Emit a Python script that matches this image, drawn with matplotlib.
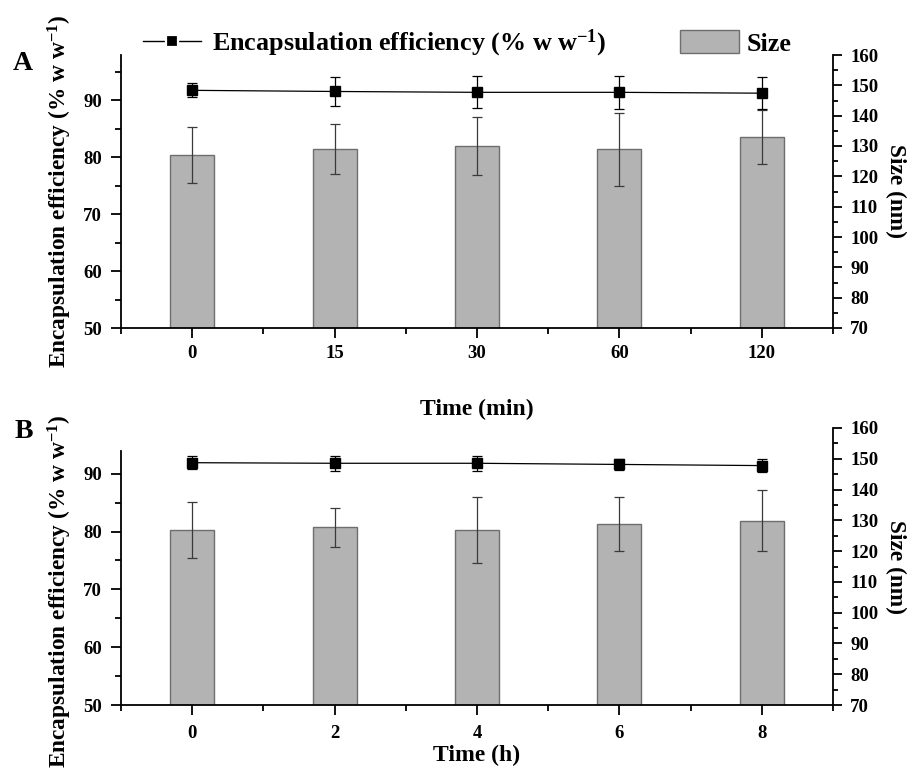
import matplotlib
matplotlib.use("Agg")
import matplotlib.pyplot as plt
from matplotlib.lines import Line2D
from matplotlib.patches import Patch
import numpy as np

plt.rcParams['font.family'] = ['Liberation Serif', 'DejaVu Serif']
plt.rcParams['font.weight'] = 'bold'
plt.rcParams['mathtext.fontset'] = 'custom'
plt.rcParams['mathtext.rm'] = 'Liberation Serif:bold'
plt.rcParams['mathtext.bf'] = 'Liberation Serif:bold'
plt.rcParams['mathtext.it'] = 'Liberation Serif:bold:italic'
plt.rcParams['mathtext.default'] = 'bf'

# ---- data ----
labels_a = ["0", "15", "30", "60", "120"]
ee_a = [91.7, 91.5, 91.35, 91.35, 91.2]
ee_err_a = [1.2, 2.6, 2.8, 2.9, 2.8]
size_a = [126.9, 128.9, 130.0, 128.9, 133.0]
size_err_a = [9.2, 8.2, 9.5, 12.0, 9.0]

labels_b = ["0", "2", "4", "6", "8"]
ee_b = [91.9, 91.8, 91.8, 91.6, 91.4]
ee_err_b = [1.1, 1.3, 1.3, 1.0, 1.1]
size_b = [126.9, 127.7, 126.9, 128.8, 129.9]
size_err_b = [9.2, 6.4, 10.7, 8.9, 10.0]

W, H = 917, 769
fig = plt.figure(figsize=(W / 100, H / 100), dpi=100)

BAR_COLOR = "#b3b3b3"
BAR_EDGE = "#6e6e6e"
TICK_FS = 13.5
LABEL_FS = 16.8
EE_LABEL = "Encapsulation efficiency (% w w$^{-1}$)"


def panel(rect, labels, ee, ee_err, size, size_err, xlabel, xpad, left_top, minor_left):
    ax = fig.add_axes(rect)
    ax2 = ax.twinx()
    x = np.arange(len(labels))
    ax2.bar(x, size, width=0.31, color=BAR_COLOR, edgecolor=BAR_EDGE, linewidth=1.0,
            yerr=size_err, error_kw=dict(ecolor="#3a3a3a", elinewidth=0.9, capsize=3.6, capthick=0.9))
    ax.errorbar(x, ee, yerr=ee_err, color="black", marker="s", markersize=7.5, linewidth=0.9,
                ecolor="black", elinewidth=0.9, capsize=3.6, capthick=0.9)
    ax.set_zorder(ax2.get_zorder() + 1)
    ax.patch.set_visible(False)

    ax.set_xlim(-0.5, len(labels) - 0.5)
    ax.set_ylim(50, 97.9)
    ax2.set_ylim(70, 160)
    ax.set_xticks(x)
    ax.set_xticklabels(labels)
    ax.set_xticks(np.arange(-0.5, len(labels), 1.0), minor=True)
    ax.set_yticks([50, 60, 70, 80, 90])
    ax.set_yticks(minor_left, minor=True)
    ax2.set_yticks(np.arange(70, 161, 10))
    ax2.set_yticks(np.arange(75, 160, 10), minor=True)

    for a in (ax, ax2):
        a.spines['top'].set_visible(False)
        for s in a.spines.values():
            s.set_linewidth(1.3)
    ax.spines['right'].set_visible(False)
    ax2.spines['left'].set_visible(False)
    ax2.spines['bottom'].set_visible(False)
    ax.spines['left'].set_bounds(50, left_top)

    ax.tick_params(axis='both', which='major', direction='out', length=7, width=1.3,
                   labelsize=TICK_FS, pad=6.5)
    ax.tick_params(axis='x', which='major', pad=xpad)
    ax.tick_params(axis='both', which='minor', direction='out', length=4, width=1.3)
    ax2.tick_params(axis='y', which='major', direction='out', length=6.5, width=1.3,
                    labelsize=TICK_FS, pad=6)
    ax2.tick_params(axis='y', which='minor', direction='out', length=3.8, width=1.3)
    for lab in ax.get_xticklabels() + ax.get_yticklabels() + ax2.get_yticklabels():
        lab.set_fontweight('bold')

    ax.set_ylabel(EE_LABEL, fontsize=LABEL_FS, fontweight='bold')
    ax2.set_ylabel("Size (nm)", fontsize=LABEL_FS, fontweight='bold', rotation=270)
    ax.set_xlabel(xlabel, fontsize=17, fontweight='bold')
    return ax, ax2


def rect(left, top, right, bottom):
    return [left / W, 1 - bottom / H, (right - left) / W, (bottom - top) / H]


axA, axA2 = panel(rect(121, 55, 833, 328), labels_a, ee_a, ee_err_a, size_a, size_err_a,
                  "Time (min)", 5.5, 97.9, [55, 65, 75, 85, 95])
axB, axB2 = panel(rect(121, 428, 833, 705), labels_b, ee_b, ee_err_b, size_b, size_err_b,
                  "Time (h)", 7.5, 94, [55, 65, 75, 85])
# right edge (text baseline side) of the rotated labels at x ~ 74 px
axA.yaxis.set_label_coords((74 - 121) / 712, 0.5)
axB.yaxis.set_label_coords((74 - 121) / 712, 0.41)
for a2 in (axA2, axB2):
    a2.yaxis.set_label_coords((906 - 121) / 712, 0.5)
# x labels: top edge positions
axA.xaxis.set_label_coords(0.5, -(399 - 328) / 273)
axB.xaxis.set_label_coords(0.5, -(745 - 705) / 277)

fig.text(23 / W, 1 - 63 / H, "A", fontsize=20, fontweight='bold', ha='center', va='center')
fig.text(24 / W, 1 - 432 / H, "B", fontsize=20, fontweight='bold', ha='center', va='center')

h_ee = Line2D([], [], color='black', marker='s', markersize=8, linewidth=1.0,
              markeredgecolor='white', markeredgewidth=1.6)
h_sz = Patch(facecolor=BAR_COLOR, edgecolor=BAR_EDGE, linewidth=1.0)
leg1 = fig.legend([h_ee], [EE_LABEL], loc='center left',
                  bbox_to_anchor=(133 / W, 1 - 43 / H), frameon=False, handlelength=2.2,
                  handletextpad=0.42, borderaxespad=0, prop=dict(size=18.8, weight='bold'))
leg2 = fig.legend([h_sz], ["Size"], loc='center left',
                  bbox_to_anchor=(670 / W, 1 - 43 / H), frameon=False, handlelength=2.25,
                  handleheight=0.95, handletextpad=0.28, borderaxespad=0,
                  prop=dict(size=18.8, weight='bold'))

fig.savefig("out.png", dpi=100)
